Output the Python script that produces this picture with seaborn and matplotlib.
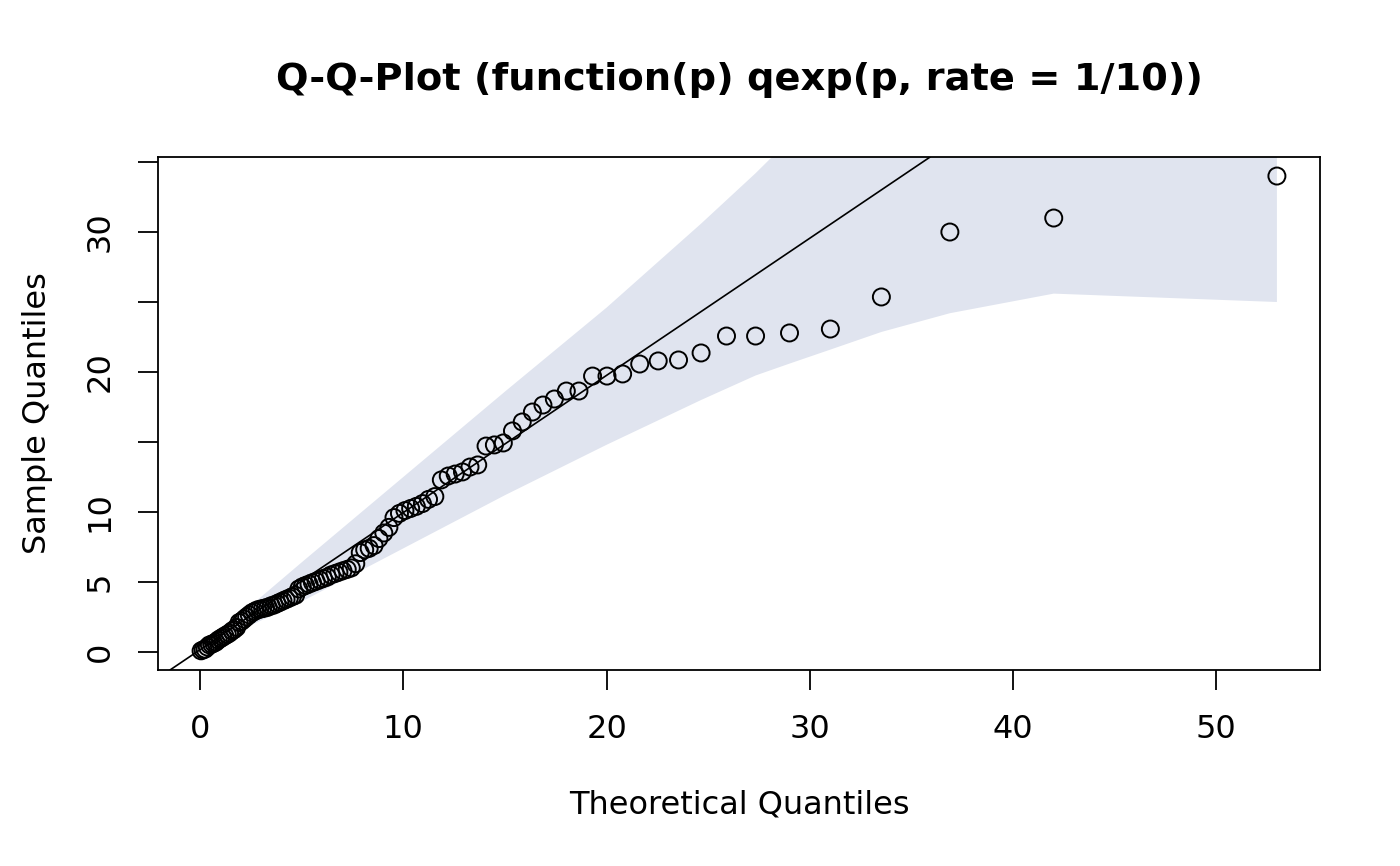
import numpy as np
import matplotlib
matplotlib.use("Agg")
import matplotlib.pyplot as plt
import seaborn as sns

# theoretical quantiles (x)
theo = [0.05, 0.15, 0.25, 0.36, 0.46, 0.57, 0.67, 0.78, 0.89, 1.00,
        1.11, 1.22, 1.34, 1.45, 1.57, 1.68, 1.80, 1.92, 2.05, 2.17,
        2.29, 2.42, 2.55, 2.68, 2.81, 2.94, 3.08, 3.22, 3.35, 3.50,
        3.64, 3.78, 3.93, 4.08, 4.23, 4.39, 4.54, 4.70, 4.86, 5.03,
        5.19, 5.36, 5.53, 5.71, 5.89, 6.07, 6.26, 6.44, 6.64, 6.83,
        7.03, 7.24, 7.44, 7.66, 7.88, 8.10, 8.32, 8.56, 8.80, 9.04,
        9.29, 9.54, 9.81, 10.08, 10.36, 10.64, 10.94, 11.24, 11.55, 11.87,
        12.21, 12.55, 12.91, 13.28, 13.66, 14.07, 14.48, 14.92, 15.37, 15.85,
        16.35, 16.87, 17.43, 18.02, 18.64, 19.31, 20.02, 20.79, 21.63, 22.54,
        23.54, 24.65, 25.90, 27.33, 29.00, 31.01, 33.52, 36.89, 42.00, 52.98]

# sample quantiles (y)
sample = [0.08, 0.15, 0.2, 0.35, 0.5, 0.55, 0.62, 0.7, 0.85, 0.95,
          1.05, 1.15, 1.25, 1.35, 1.5, 1.6, 1.75, 2.1, 2.2, 2.35,
          2.5, 2.65, 2.8, 2.9, 3.0, 3.05, 3.1, 3.15, 3.2, 3.3,
          3.35, 3.45, 3.55, 3.65, 3.75, 3.85, 3.95, 4.05, 4.5, 4.65,
          4.75, 4.85, 4.95, 5.05, 5.15, 5.25, 5.35, 5.5, 5.6, 5.7,
          5.8, 5.9, 6.0, 6.3, 7.1, 7.3, 7.4, 7.6, 8.1, 8.5,
          8.9, 9.6, 9.9, 10.1, 10.25, 10.4, 10.6, 10.9, 11.1, 12.29,
          12.57, 12.71, 12.86, 13.21, 13.36, 14.71, 14.79, 14.93, 15.79, 16.43,
          17.14, 17.64, 18.07, 18.64, 18.64, 19.71, 19.71, 19.86, 20.57, 20.79,
          20.86, 21.36, 22.57, 22.57, 22.79, 23.07, 25.36, 30.0, 31.0, 34.0]

# confidence band
band_x = [0.05, 1.6, 5.0, 10.0, 15.0, 20.0, 24.65, 27.33, 29.0, 31.01, 33.52, 36.89, 42.0, 52.98]
band_lo = [0.0, 1.3, 3.6, 7.4, 11.2, 14.8, 18.0, 19.75, 20.6, 21.6, 22.86, 24.2, 25.6, 25.0]
band_hi = [0.1, 2.2, 6.4, 12.5, 18.6, 24.6, 30.6, 34.2, 36.6, 39.3, 42.5, 46.5, 52.5, 64.0]

# reference line
line_intercept = 0.16
line_slope = 0.98

sns.set_style("white")
plt.rcParams['font.family'] = ['DejaVu Sans']
plt.rcParams['text.color'] = 'black'

fig = plt.figure(figsize=(14, 8.66), dpi=100)
ax = fig.add_axes([158 / 1400, 1 - 670 / 866, (1320 - 158) / 1400, (670 - 157) / 866])

ax.fill_between(band_x, band_lo, band_hi, color="#e0e4ef", linewidth=0, zorder=1)
ax.axline((0, line_intercept), slope=line_slope, color="black", linewidth=1.2, zorder=2)
sns.scatterplot(x=theo, y=sample, ax=ax, marker="o", s=150,
                facecolor="none", edgecolor="black", linewidth=1.4, zorder=3)

ax.set_xlim(-2.07, 55.1)
ax.set_ylim(-1.29, 35.36)

ax.set_xticks([0, 10, 20, 30, 40, 50])
ax.set_yticks([0, 5, 10, 15, 20, 25, 30, 35])
ax.set_yticklabels(["0", "5", "10", "", "20", "", "30", ""], rotation=90, va="center")
ax.tick_params(axis="both", direction="out", length=14.4, width=1.3, color="black",
               labelsize=23, labelcolor="black", left=True, bottom=True)
ax.tick_params(axis="x", pad=17)
ax.tick_params(axis="y", pad=16)
for sp in ax.spines.values():
    sp.set_visible(True)
    sp.set_color("black")
    sp.set_linewidth(1.3)

fig.text(739 / 1400, 1 - 805 / 866, "Theoretical Quantiles", ha="center", va="center",
         fontsize=23, color="black")
fig.text(38 / 1400, 1 - 413 / 866, "Sample Quantiles", ha="center", va="center",
         fontsize=23, rotation=90, color="black")
fig.text(739 / 1400, 1 - 80 / 866, "Q-Q-Plot (function(p) qexp(p, rate = 1/10))",
         ha="center", va="center", fontsize=27.6, fontweight="bold", color="black")

fig.savefig("out.png", dpi=100, facecolor="white")
